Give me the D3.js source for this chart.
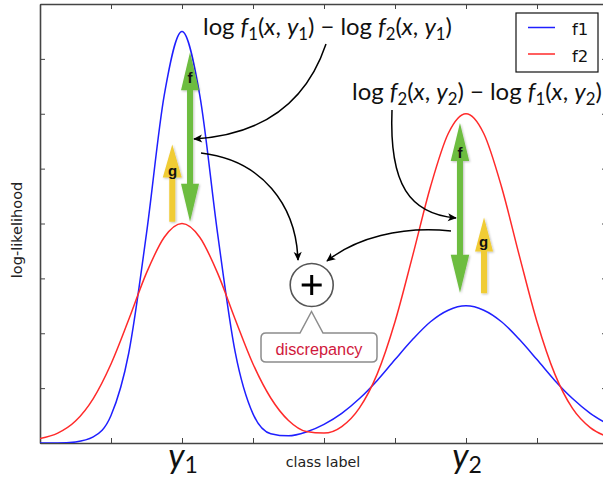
<!DOCTYPE html>
<html><head><meta charset="utf-8">
<script src="https://cdn.jsdelivr.net/npm/d3@7"></script>
<style>body{margin:0;background:#fff} svg{display:block}</style>
</head><body>
<svg id="c" width="603" height="480"></svg>
<script>
// ---- data ----
const xs = [0,0.25,0.5,0.75,1,1.25,1.5,1.75,2,2.25,2.5,2.75,3,3.25,3.5,3.75,4,4.25,4.5,4.75,5,5.25,5.5,5.75,6,6.25,6.5,6.75,7,7.25,7.5,7.75,8];
const f1 = [0.00,0.00,0.02,0.11,0.50,1.64,3.82,6.34,7.50,6.34,3.83,1.65,0.53,0.17,0.13,0.20,0.34,0.54,0.81,1.14,1.52,1.89,2.21,2.42,2.50,2.42,2.21,1.89,1.52,1.14,0.81,0.54,0.34];
const f2 = [0.08,0.18,0.40,0.81,1.44,2.25,3.10,3.75,4.00,3.75,3.10,2.25,1.44,0.82,0.41,0.21,0.18,0.30,0.64,1.26,2.21,3.42,4.67,5.64,6.00,5.64,4.67,3.42,2.21,1.26,0.63,0.28,0.11];
const seriesNames = ["f1","f2"];
const seriesColors = ["#1f1fff","#ff2a2a"];
const xTicks = [0,1,2,3,4,5,6,7,8];
const xTickLabels = {2:["y","1"], 6:["y","2"]};
const yTicks = [0,1,2,3,4,5,6,7,8];

// ---- layout ----
const svg = d3.select("#c");
const L=40, T=4, R=608, B=443;
const x = d3.scaleLinear().domain([0,8]).range([L,R]);
const y = d3.scaleLinear().domain([0,8]).range([B,T]);

const defs = svg.append("defs");
defs.append("clipPath").attr("id","clip").append("rect").attr("x",L).attr("y",T).attr("width",R-L).attr("height",B-T);
defs.append("marker").attr("id","ah").attr("viewBox","0 0 10 10").attr("refX",9).attr("refY",5)
  .attr("markerWidth",10).attr("markerHeight",9).attr("markerUnits","userSpaceOnUse").attr("orient","auto")
  .append("path").attr("d","M0,0.5 L10,5 L0,9.5 L2.5,5 Z").attr("fill","#000");
const sh = defs.append("filter").attr("id","sh").attr("x","-50%").attr("y","-20%").attr("width","200%").attr("height","140%");
sh.append("feDropShadow").attr("dx",1).attr("dy",1).attr("stdDeviation",1).attr("flood-color","#000").attr("flood-opacity",0.25);

// axes (ticks inward on all four sides)
const spine = "#444";
function styleAxis(g){ g.select(".domain").attr("stroke",spine).attr("stroke-width",1.6); g.selectAll(".tick line").attr("stroke",spine).attr("stroke-width",1); g.selectAll(".tick text").remove(); }
svg.append("g").attr("transform",`translate(0,${B})`).call(d3.axisBottom(x).tickValues(xTicks).tickSize(-5).tickSizeOuter(0).tickFormat("")).call(styleAxis);
svg.append("g").attr("transform",`translate(0,${T})`).call(d3.axisTop(x).tickValues(xTicks).tickSize(-5).tickSizeOuter(0).tickFormat("")).call(styleAxis);
svg.append("g").attr("transform",`translate(${L},0)`).call(d3.axisLeft(y).tickValues(yTicks).tickSize(-5).tickSizeOuter(0).tickFormat("")).call(styleAxis);
svg.append("g").attr("transform",`translate(${R},0)`).call(d3.axisRight(y).tickValues(yTicks).tickSize(-6).tickSizeOuter(0).tickFormat("")).call(styleAxis);

// curves
const line = d3.line().x((d,i)=>x(xs[i])).y(d=>y(d)).curve(d3.curveMonotoneX);
[f1,f2].forEach((s,k)=>{
  svg.append("path").attr("clip-path","url(#clip)").attr("d",line(s)).attr("fill","none")
    .attr("stroke",seriesColors[k]).attr("stroke-width",1.5);
});

// x tick labels (italic y with subscript)
Object.entries(xTickLabels).forEach(([v,lab])=>{
  const t = svg.append("text").attr("x",x(+v)+1).attr("y",468).attr("text-anchor","middle")
    .attr("font-family","Lato, 'DejaVu Sans', sans-serif").attr("fill","#111");
  t.append("tspan").attr("font-size",34).attr("font-style","italic").text(lab[0]);
  t.append("tspan").attr("font-size",23).attr("dy",5).text(lab[1]);
});
svg.append("text").attr("x",323).attr("y",467).attr("text-anchor","middle")
  .attr("font-family","'DejaVu Sans', sans-serif").attr("font-size",14.3).attr("fill","#222").text("class label");
svg.append("text").attr("transform","translate(21.5,230) rotate(-90)").attr("text-anchor","middle")
  .attr("font-family","'DejaVu Sans', sans-serif").attr("font-size",14.5).attr("fill","#222").text("log-likelihood");

// legend
const lg = svg.append("g");
lg.append("rect").attr("x",516).attr("y",13).attr("width",82).attr("height",59).attr("fill","#fff").attr("stroke","#111").attr("stroke-width",1.2);
seriesNames.forEach((n,k)=>{
  const yy = 27.5 + k*26.5;
  lg.append("line").attr("x1",528).attr("x2",555).attr("y1",yy).attr("y2",yy).attr("stroke",seriesColors[k]).attr("stroke-width",1.5);
  lg.append("text").attr("x",572).attr("y",yy+7.5).attr("font-family","'DejaVu Sans', sans-serif").attr("font-size",16.5).attr("fill","#111").text(n);
});

// block arrows (positions in data units)
const green="#6dbd3f", yellow="#f0cc34";
function blockArrow(xv, vTip, vTail, color, dbl, hl, hw, sw){
  const cx=x(xv), yT=y(vTip), yB=y(vTail);
  let pts;
  if(dbl){
    pts=[[cx,yT],[cx+hw/2,yT+hl],[cx+sw/2,yT+hl],[cx+sw/2,yB-hl],[cx+hw/2,yB-hl],[cx,yB],[cx-hw/2,yB-hl],[cx-sw/2,yB-hl],[cx-sw/2,yT+hl],[cx-hw/2,yT+hl]];
  } else {
    pts=[[cx,yT],[cx+hw/2,yT+hl],[cx+sw/2,yT+hl],[cx+sw/2,yB],[cx-sw/2,yB],[cx-sw/2,yT+hl],[cx-hw/2,yT+hl]];
  }
  svg.append("path").attr("d","M"+pts.map(p=>p.join(",")).join("L")+"Z").attr("fill",color).attr("filter","url(#sh)");
}
blockArrow(2.113, 7.12, 4.03, green, true, 38, 18, 6);
blockArrow(1.863, 5.44, 4.03, yellow, false, 33, 19, 6);
blockArrow(5.915, 5.83, 2.74, green, true, 38, 18.5, 6);
blockArrow(6.254, 4.11, 2.73, yellow, false, 34, 18, 6);
function arrowLabel(px,py,s){ svg.append("text").attr("x",px).attr("y",py).attr("text-anchor","middle")
  .attr("font-family","'Liberation Sans', Arial, sans-serif").attr("font-weight","bold").attr("font-size",15).attr("fill","#111").text(s); }
arrowLabel(190,83,"f"); arrowLabel(172.5,176,"g"); arrowLabel(460,158,"f"); arrowLabel(483.5,247,"g");

// math annotations
function mathText(px, py, parts, targetW){
  const t = svg.append("text").attr("x",px).attr("y",py).attr("font-family","Lato, 'Open Sans', sans-serif").attr("fill","#111");
  let shift=0;
  const render = fs => {
    t.selectAll("tspan").remove(); shift=0;
    parts.forEach(p=>{
      const ts=t.append("tspan").text(p.t);
      if(p.sub){ ts.attr("font-size",fs*0.7).attr("dy",fs*0.22-shift); shift=fs*0.22; }
      else { ts.attr("font-size",fs).attr("dy",-shift); shift=0; if(p.i) ts.attr("font-style","italic"); }
      ts.attr("xml:space","preserve");
    });
  };
  render(20);
  const w = t.node().getComputedTextLength();
  render(20*targetW/w);
}
const P = (t,i,sub)=>({t:t,i:!!i,sub:!!sub});
mathText(203,35,[P("log "),P("f",1),P("1",0,1),P("("),P("x",1),P(", "),P("y",1),P("1",0,1),P(") \u2212 log "),P("f",1),P("2",0,1),P("("),P("x",1),P(", "),P("y",1),P("1",0,1),P(")")],249);
mathText(352,100,[P("log "),P("f",1),P("2",0,1),P("("),P("x",1),P(", "),P("y",1),P("2",0,1),P(") \u2212 log "),P("f",1),P("1",0,1),P("("),P("x",1),P(", "),P("y",1),P("2",0,1),P(")")],250);

// discrepancy node
const cX=311.7, cY=285;
svg.append("circle").attr("cx",cX).attr("cy",cY).attr("r",21.5).attr("fill","#fff").attr("stroke","#555").attr("stroke-width",1.6);
svg.append("path").attr("d",`M${cX-10},${cY}H${cX+10}M${cX},${cY-10}V${cY+10}`).attr("stroke","#000").attr("stroke-width",3);
const x0=261,y0=333,x1=377,y1=362,r=5;
svg.append("path").attr("d",`M${x0+r},${y0}L300,${y0}L311.5,311.5L323,${y0}L${x1-r},${y0}Q${x1},${y0} ${x1},${y0+r}L${x1},${y1-r}Q${x1},${y1} ${x1-r},${y1}L${x0+r},${y1}Q${x0},${y1} ${x0},${y1-r}L${x0},${y0+r}Q${x0},${y0} ${x0+r},${y0}Z`)
  .attr("fill","#fff").attr("stroke","#8c8c8c").attr("stroke-width",1.5);
svg.append("text").attr("x",319).attr("y",355).attr("text-anchor","middle").attr("font-family","'Liberation Sans', Arial, sans-serif")
  .attr("font-size",16.3).attr("fill","#d0183c").text("discrepancy");

// curved pointer arrows
const curves = [
  "M326,44 Q296,133 194,139",
  "M201,153 C262,160 296,205 298,260",
  "M392,110 C389,185 410,214 456,218",
  "M451,231 C400,226 356,238 327,261"
];
curves.forEach(d=>svg.append("path").attr("d",d).attr("fill","none").attr("stroke","#000").attr("stroke-width",1.5).attr("marker-end","url(#ah)"));
</script>
</body></html>
